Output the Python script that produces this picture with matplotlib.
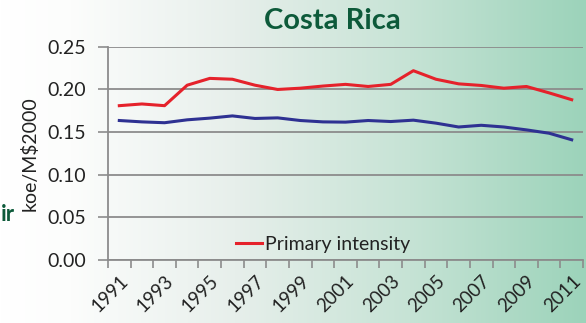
import numpy as np
import matplotlib.pyplot as plt
from matplotlib.colors import LinearSegmentedColormap

plt.rcParams['font.family'] = ['Lato', 'DejaVu Sans']

years = list(range(1991, 2012))
year_labels = [str(y) if (y - 1991) % 2 == 0 else '' for y in years]

# koe per M$2000
primary = [0.181, 0.183, 0.181, 0.205, 0.213, 0.212, 0.205, 0.200, 0.2015, 0.204,
           0.206, 0.2035, 0.206, 0.222, 0.212, 0.2066, 0.2047, 0.2015, 0.2035, 0.196, 0.188]
final = [0.1636, 0.162, 0.161, 0.1644, 0.1664, 0.169, 0.166, 0.1667, 0.1636, 0.162,
         0.1617, 0.1636, 0.1624, 0.164, 0.1605, 0.156, 0.158, 0.156, 0.1526, 0.1487, 0.141]

title_green = '#0d5a3a'
red = '#e5222b'
blue = '#2e3192'

fig = plt.figure(figsize=(5.86, 3.23), dpi=100)

# white-to-mint background wash
bg = fig.add_axes([0, 0, 1, 1], zorder=-10)
cmap = LinearSegmentedColormap.from_list(
    'wash', [(0.0, '#ffffff'), (0.12, '#fcfdfc'), (0.4, '#e7efeb'),
             (0.7, '#c6e3d5'), (1.0, '#9cd3ba')])
grad = np.linspace(0, 1, 256).reshape(1, -1)
bg.imshow(grad, aspect='auto', cmap=cmap, extent=[0, 1, 0, 1])
bg.axis('off')

ax = fig.add_axes([0.1843, 0.195, 0.8106, 0.66])
ax.patch.set_alpha(0)
x = np.arange(len(years))
ax.plot(x, primary, color=red, lw=2.2, label='Primary intensity')
ax.plot(x, final, color=blue, lw=2.2)

ax.set_xlim(-0.5, len(years) - 0.5)
ax.set_ylim(0, 0.25)
ax.set_yticks(np.arange(0, 0.26, 0.05))
ax.set_yticklabels([f'{v:.2f}' for v in np.arange(0, 0.26, 0.05)], fontsize=14, color='#222222')
ax.grid(axis='y', color='#8c8c8c', lw=1.3)
ax.set_axisbelow(True)

ax.set_xticks(x)
ax.set_xticklabels(year_labels, rotation=45, ha='right', rotation_mode='anchor',
                   fontsize=13.5, color='#222222')
ax.set_xticks(np.arange(-0.5, len(years)), minor=True)
ax.tick_params(axis='x', which='major', length=0, pad=9)
ax.tick_params(axis='x', which='minor', length=6, color='#8c8c8c', width=1.2)
ax.tick_params(axis='y', length=7, color='#8c8c8c', width=1.2, pad=9)

for s in ['top', 'right']:
    ax.spines[s].set_visible(False)
for s in ['left', 'bottom']:
    ax.spines[s].set_color('#8c8c8c')
    ax.spines[s].set_linewidth(1.3)

ax.set_ylabel('koe/M$2000', fontsize=14, color='#222222', labelpad=6)

ax.legend(loc='center left', bbox_to_anchor=(0.2695, 0.075), frameon=False,
          fontsize=14, handlelength=1.35, handletextpad=0.15, borderpad=0,
          borderaxespad=0, labelcolor='#222222')

fig.text(0.567, 0.935, 'Costa Rica', fontsize=21, fontweight='bold',
         color=title_green, ha='center', va='center')
fig.text(0.001, 0.335, 'ir', fontsize=16, fontweight='bold',
         color=title_green, ha='left', va='center')

fig.savefig('out.png', dpi=100)
